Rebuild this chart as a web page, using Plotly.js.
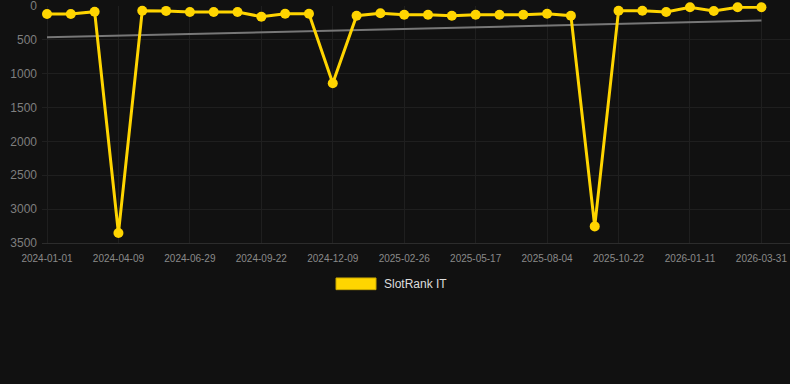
<!DOCTYPE html>
<html>
<head>
<meta charset="utf-8">
<script src="https://cdn.plot.ly/plotly-3.0.1.min.js"></script>
<style>
html,body{margin:0;padding:0;background:#111111;}
#chart{width:790px;height:384px;}
</style>
</head>
<body>
<div id="chart"></div>
<script>
// Categories (dates of each observation)
const dates = [
  "2024-01-01","2024-02-03","2024-03-07","2024-04-09","2024-05-06","2024-06-02",
  "2024-06-29","2024-07-27","2024-08-24","2024-09-22","2024-10-18","2024-11-13",
  "2024-12-09","2025-01-07","2025-02-01","2025-02-26","2025-03-24","2025-04-21",
  "2025-05-17","2025-06-12","2025-07-09","2025-08-04","2025-08-30","2025-09-26",
  "2025-10-22","2025-11-18","2025-12-15","2026-01-11","2026-02-06","2026-03-05",
  "2026-03-31"
];
// SlotRank IT rank values
const slotRankIT = [
  118, 118, 84, 3353, 69, 72, 88, 88, 88, 158, 114, 114,
  1140, 143, 108, 128, 128, 143, 128, 128, 128, 114, 143, 3255,
  69, 69, 88, 19, 74, 19, 19
];
// Tick labels shown on the x axis
const tickLabels = [
  "2024-01-01","2024-04-09","2024-06-29","2024-09-22","2024-12-09","2025-02-26",
  "2025-05-17","2025-08-04","2025-10-22","2026-01-11","2026-03-31"
];
const yTicks = [0, 500, 1000, 1500, 2000, 2500, 3000, 3500];
const seriesName = "SlotRank IT";

// Linear trend (least squares over observation index)
const n = slotRankIT.length;
let sx = 0, sy = 0, sxx = 0, sxy = 0;
slotRankIT.forEach((v, i) => { sx += i; sy += v; sxx += i * i; sxy += i * v; });
const slope = (n * sxy - sx * sy) / (n * sxx - sx * sx);
const intercept = (sy - slope * sx) / n;
const trendX = [dates[0], dates[n - 1]];
const trendY = [intercept, intercept + slope * (n - 1)];

const gold = "#FFD500";
const traces = [
  {
    x: trendX, y: trendY, type: "scatter", mode: "lines",
    line: {color: "#777777", width: 2}, hoverinfo: "skip", showlegend: false
  },
  {
    x: dates, y: slotRankIT, type: "scatter", mode: "lines+markers",
    name: seriesName,
    line: {color: gold, width: 3},
    marker: {color: gold, size: 10},
    cliponaxis: false, showlegend: false
  }
];

const layout = {
  width: 790, height: 384,
  paper_bgcolor: "#111111", plot_bgcolor: "#111111",
  margin: {l: 42, r: 0, t: 6, b: 140.7, autoexpand: false},
  font: {family: "Liberation Sans, Arial, sans-serif", color: "#888888"},
  showlegend: false,
  xaxis: {
    type: "category",
    categoryorder: "array", categoryarray: dates,
    range: [-0.21, 31.2],
    tickmode: "array", tickvals: tickLabels, ticktext: tickLabels,
    tickfont: {size: 10, color: "#8a8a8a"},
    showgrid: true, gridcolor: "#1f1f1f", gridwidth: 1,
    zeroline: false, showline: true, linecolor: "#2c2c2c", linewidth: 1,
    ticks: "", ticklabelstandoff: 6, fixedrange: true
  },
  yaxis: {
    range: [3500, 0],
    tickmode: "array", tickvals: yTicks, ticktext: yTicks.map(String),
    tickfont: {size: 12, color: "#7f7f7f"},
    showgrid: true, gridcolor: "#1f1f1f", gridwidth: 1,
    zeroline: false, showline: false,
    ticks: "", ticklabelstandoff: 4, ticklabeloverflow: "allow", fixedrange: true
  },
  shapes: [
    {type: "rect", xref: "paper", yref: "paper",
     x0: (336 - 42) / 748, x1: (376 - 42) / 748,
     y0: (384 - 140.7 - 290) / 237.3, y1: (384 - 140.7 - 278.3) / 237.3,
     fillcolor: gold, line: {color: "#c9a800", width: 1}}
  ],
  annotations: [
    {xref: "paper", yref: "paper",
     x: (382 - 42) / 748, y: (384 - 140.7 - 284.5) / 237.3,
     xanchor: "left", yanchor: "middle", showarrow: false,
     text: seriesName, font: {size: 12, color: "#dddddd"}}
  ]
};

Plotly.newPlot("chart", traces, layout, {displayModeBar: false, staticPlot: true});
</script>
</body>
</html>
